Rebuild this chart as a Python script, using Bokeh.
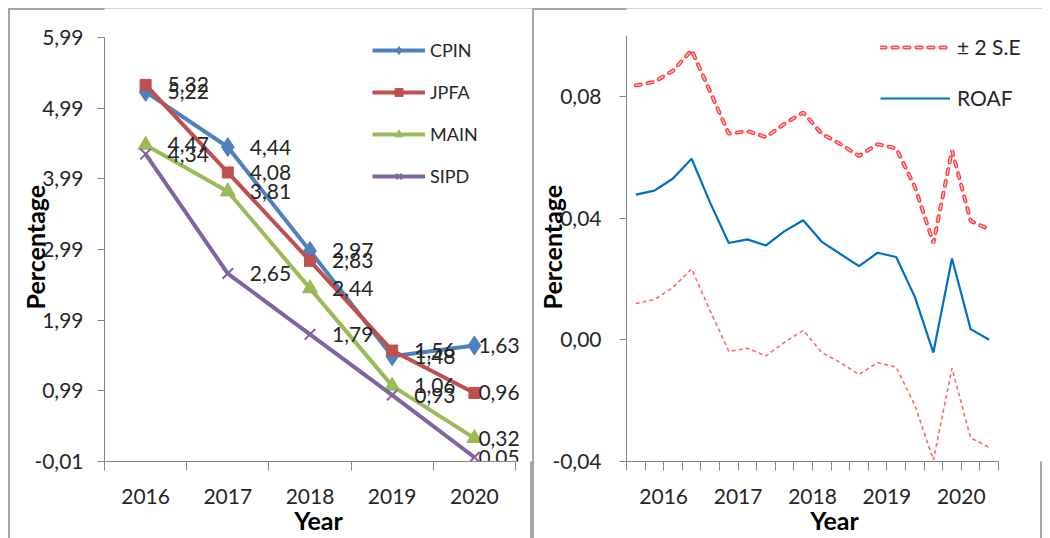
from bokeh.plotting import figure
from bokeh.layouts import row
from bokeh.models import (FixedTicker, CustomJSTickFormatter, Legend, LegendItem,
                          Range1d)
from bokeh.core.properties import value
from bokeh.embed import file_html
from bokeh.resources import INLINE

# ---------------- data ----------------
years = ["2016", "2017", "2018", "2019", "2020"]
cpin = [5.22, 4.44, 2.97, 1.48, 1.63]
jpfa = [5.32, 4.08, 2.83, 1.56, 0.96]
main = [4.47, 3.81, 2.44, 1.06, 0.32]
sipd = [4.34, 2.65, 1.79, 0.93, 0.05]
left_y_ticks = [-0.01, 0.99, 1.99, 2.99, 3.99, 4.99, 5.99]

# quarterly series (4 per year, 2016-2020)
roaf = [0.0477, 0.0490, 0.0530, 0.0595, 0.0450, 0.0318, 0.0330, 0.0310,
        0.0357, 0.0393, 0.0322, 0.0282, 0.0242, 0.0286, 0.0272, 0.0141,
        -0.0042, 0.0267, 0.0035, 0.0000]
upper = [0.0836, 0.0848, 0.0884, 0.0952, 0.0815, 0.0677, 0.0686, 0.0666,
         0.0710, 0.0747, 0.0677, 0.0643, 0.0604, 0.0643, 0.0629, 0.0503,
         0.0318, 0.0623, 0.0391, 0.0363]
lower = [0.0119, 0.0132, 0.0172, 0.0233, 0.0095, -0.0038, -0.0028, -0.0053,
         -0.0008, 0.0031, -0.0042, -0.0075, -0.0114, -0.0075, -0.0090, -0.0215,
         -0.0395, -0.0094, -0.0322, -0.0354]
right_y_ticks = [-0.04, 0.0, 0.04, 0.08]

FONT = "Lato"
AXIS_COL = "#868686"
TXT_COL = "#262626"
BORDER = "#a6a6a6"
NBSP = "\u00a0"

fmt_comma = CustomJSTickFormatter(code="return tick.toFixed(2).replace('.', ',');")


def style_axes(p):
    p.grid.visible = False
    p.outline_line_color = None
    p.border_fill_color = None
    for ax in (p.xaxis[0], p.yaxis[0]):
        ax.axis_line_color = AXIS_COL
        ax.major_tick_line_color = AXIS_COL
        ax.minor_tick_line_color = AXIS_COL
        ax.major_label_text_font = FONT
        ax.major_label_text_font_size = "21px"
        ax.major_label_text_color = TXT_COL
        ax.axis_label_text_font = FONT
        ax.axis_label_text_font_size = "25px"
        ax.axis_label_text_font_style = "bold"
        ax.axis_label_text_color = "#000000"
        ax.major_tick_in = 0
        ax.minor_tick_in = 0
    p.xaxis.major_tick_out = 0
    p.xaxis.minor_tick_out = 9
    p.yaxis.major_tick_out = 7
    p.yaxis.minor_tick_out = 0
    p.xaxis.axis_label = "Year"
    # trailing no-break spaces move the rotated title down to the axis centre
    p.yaxis.axis_label = "Percentage" + NBSP * 4


panel_style = {"box-shadow": f"inset 0 2px 0 {BORDER}, inset 2px 0 0 {BORDER}, inset -2px 0 0 {BORDER}"}
H = 530
B = 77            # shared bottom border (both plots)

# ---------------- left chart ----------------
n = len(years)
xs = [i + 0.5 for i in range(n)]
W1 = 524
L1, T1 = 96, 29                  # axis starts L1 px from left, T1 px from top
AX1 = 411                        # x-axis length in px
AY1 = H - B - T1                 # y-axis length in px
y_lo1, y_hi1 = left_y_ticks[0], left_y_ticks[-1]
x_end1 = n * (W1 - L1) / AX1
y_end1 = y_hi1 + T1 * (y_hi1 - y_lo1) / AY1
p1 = figure(width=W1, height=H, x_range=Range1d(0, x_end1), y_range=Range1d(y_lo1, y_end1),
            title=None, output_backend="svg", toolbar_location=None,
            min_border_left=L1, min_border_right=0, min_border_top=0, min_border_bottom=B)
p1.styles = panel_style
style_axes(p1)
p1.xaxis.bounds = (0, n)
p1.yaxis.bounds = (y_lo1, y_hi1)
p1.xaxis.ticker = FixedTicker(ticks=xs, minor_ticks=list(range(n + 1)))
p1.xaxis.formatter = CustomJSTickFormatter(args=dict(labels=years),
                                           code="return labels[Math.floor(tick)];")
p1.xaxis.major_label_standoff = 18
p1.xaxis.axis_label_standoff = -2
p1.yaxis.ticker = FixedTicker(ticks=left_y_ticks, minor_ticks=[])
p1.yaxis.formatter = fmt_comma
p1.yaxis.major_label_standoff = 14
p1.yaxis.axis_label_standoff = -19

series = [
    ("CPIN", cpin, "#4f81bd", "diamond", 19),
    ("JPFA", jpfa, "#c0504d", "square", 11),
    ("MAIN", main, "#9bbb59", "triangle", 15),
    ("SIPD", sipd, "#8064a2", "x", 15),
]
items = []
for name, vals, col, mk, sz in series:
    ln = p1.line(xs, vals, line_color=col, line_width=4)
    if mk == "x":
        sc = p1.scatter(xs, vals, marker=mk, size=sz, line_color=col, line_width=2)
    else:
        sc = p1.scatter(xs, vals, marker=mk, size=sz, fill_color=col, line_color=col)
    items.append(LegendItem(label=name, renderers=[ln, sc]))

offsets = [22 if i < n - 1 else 4 for i in range(n)]
for name, vals, col, mk, sz in series:
    p1.text(xs, vals, text=[f"{v:.2f}".replace(".", ",") for v in vals],
            x_offset=offsets, text_align="left", text_baseline="middle",
            text_font=value(FONT), text_font_size="21px", text_color=TXT_COL)

leg1 = Legend(items=items, location=(268, 274), background_fill_alpha=0,
              border_line_color=None, padding=0, margin=0, spacing=20,
              glyph_width=53, glyph_height=20, label_height=20, label_standoff=5,
              label_text_font=FONT, label_text_font_size="18px", label_text_color=TXT_COL)
p1.add_layout(leg1)

# ---------------- right chart ----------------
m = len(roaf)
xs2 = [i + 0.5 for i in range(m)]
per_year = m // n
W2 = 510
L2, T2 = 94, 27
AX2 = 372                        # x-axis length in px
AY2 = H - B - T2                 # y-axis length in px
y_lo2, y_hi2 = right_y_ticks[0], 0.10
x_end2 = m * (W2 - L2) / AX2
y_end2 = y_hi2 + T2 * (y_hi2 - y_lo2) / AY2
p2 = figure(width=W2, height=H, x_range=Range1d(0, x_end2), y_range=Range1d(y_lo2, y_end2),
            title=None, output_backend="svg", toolbar_location=None,
            min_border_left=L2, min_border_right=0, min_border_top=0, min_border_bottom=B)
p2.styles = panel_style
style_axes(p2)
p2.xaxis.bounds = (0, m)
p2.yaxis.bounds = (y_lo2, y_hi2)
p2.xaxis.ticker = FixedTicker(ticks=[per_year * i + per_year / 2 for i in range(n)],
                              minor_ticks=list(range(m + 1)))
p2.xaxis.formatter = CustomJSTickFormatter(args=dict(labels=years, k=per_year),
                                           code="return labels[Math.floor(tick / k)];")
p2.xaxis.major_label_standoff = 18
p2.xaxis.axis_label_standoff = -2
p2.yaxis.ticker = FixedTicker(ticks=right_y_ticks, minor_ticks=[])
p2.yaxis.formatter = fmt_comma
p2.yaxis.major_label_standoff = 18
p2.yaxis.axis_label_standoff = -18

lo = p2.line(xs2, lower, line_color="#ff6b6b", line_width=1.6, line_dash="4 3")
up_o = p2.line(xs2, upper, line_color="#ff3b3b", line_width=4, line_dash="5 7", line_cap="round")
up_i = p2.line(xs2, upper, line_color="#ffc0c0", line_width=1.4, line_dash="5 7", line_cap="round")
bl = p2.line(xs2, roaf, line_color="#0070c0", line_width=2.2)

leg2 = Legend(items=[LegendItem(label="± 2 S.E", renderers=[up_o, up_i]),
                     LegendItem(label="ROAF", renderers=[bl])],
              location=(254, 351), background_fill_alpha=0, border_line_color=None,
              padding=0, margin=0, spacing=26, glyph_width=70, glyph_height=20,
              label_height=20, label_standoff=7, label_text_font=FONT,
              label_text_font_size="21px", label_text_color=TXT_COL)
p2.add_layout(leg2)

layout = row(p1, p2, spacing=0, styles={"margin-left": "8px", "margin-top": "8px"})
open("out.html", "w").write(file_html(layout, INLINE))
